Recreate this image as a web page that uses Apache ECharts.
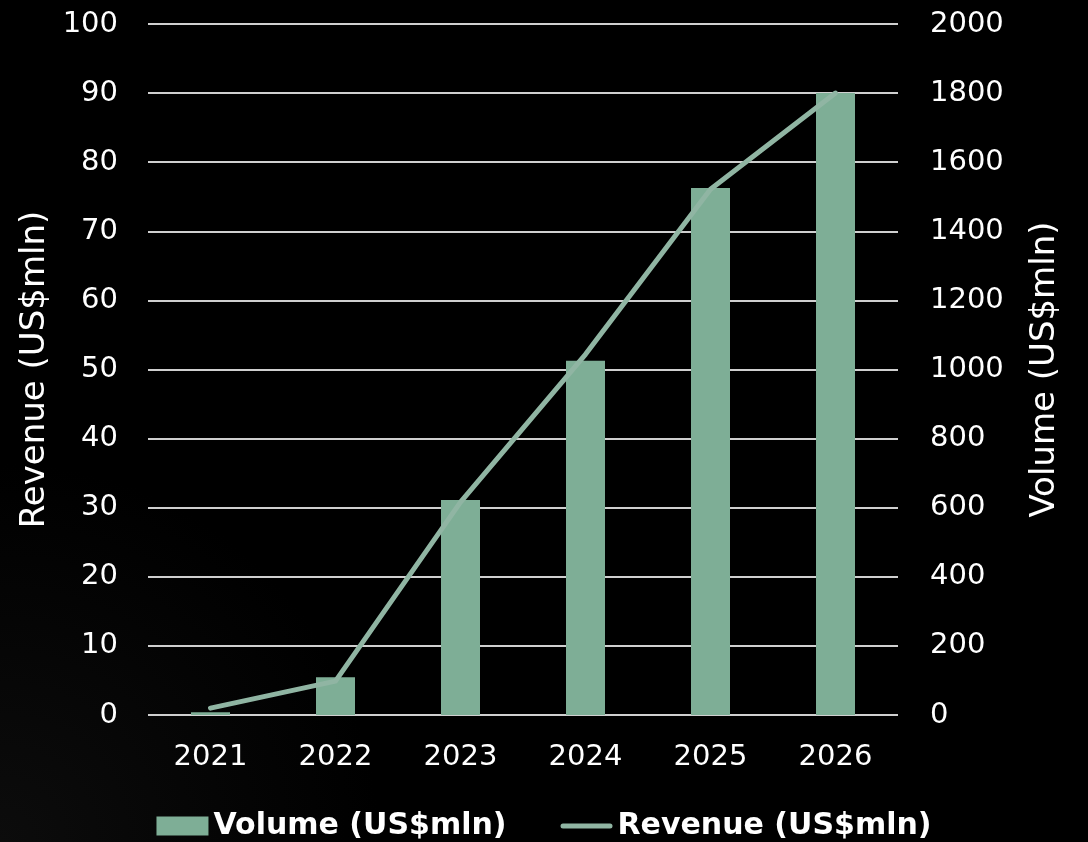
<!DOCTYPE html>
<html>
<head>
<meta charset="utf-8">
<script src="https://cdn.jsdelivr.net/npm/echarts@6/dist/echarts.min.js"></script>
<style>
html,body{margin:0;padding:0;background:#000;}
#c{width:1088px;height:842px;}
</style>
</head>
<body>
<div id="c"></div>
<script>
const categories = ['2021', '2022', '2023', '2024', '2025', '2026'];
const volume = [8, 109, 622, 1025, 1525, 1800];
const revenue = [1.0, 4.9, 30.8, 52.2, 76.1, 90.0];
const revenueTicks = { min: 0, max: 100, interval: 10 };
const volumeTicks = { min: 0, max: 2000, interval: 200 };

const FONT = 'DejaVu Sans';
const LIGHT = 'normal';
const chart = echarts.init(document.getElementById('c'), null, { renderer: 'canvas' });
chart.setOption({
  backgroundColor: {
    type: 'radial', x: 0, y: 1, r: 0.45,
    colorStops: [{ offset: 0, color: '#0c0c0c' }, { offset: 1, color: '#000000' }]
  },
  animation: false,
  grid: { left: 148, right: 190, top: 24, bottom: 127 },
  legend: {
    bottom: -4,
    left: 'center',
    itemWidth: 52,
    itemHeight: 19,
    itemGap: 54,
    textStyle: { color: '#ffffff', fontFamily: FONT, fontWeight: 'bold', fontSize: 30 },
    data: [
      { name: 'Volume (US$mln)', icon: 'rect' },
      { name: 'Revenue (US$mln)',
        icon: 'path://M0,0L0.01,0L0,0.01Z M0,19L0.01,19L0,18.99Z M2.5,7L49.5,7A2.5,2.5 0 0 1 49.5,12L2.5,12A2.5,2.5 0 0 1 2.5,7Z',
        itemStyle: { color: '#90b5a3' } }
    ]
  },
  xAxis: {
    type: 'category',
    data: categories,
    axisLine: { show: false },
    axisTick: { show: false },
    axisLabel: { color: '#ffffff', fontFamily: FONT, fontWeight: LIGHT, fontSize: 29, margin: 28 }
  },
  yAxis: [
    {
      type: 'value',
      position: 'left',
      min: revenueTicks.min, max: revenueTicks.max, interval: revenueTicks.interval,
      name: 'Revenue (US$mln)',
      nameLocation: 'middle',
      nameRotate: 90,
      nameGap: 91,
      nameTextStyle: { color: '#ffffff', fontFamily: FONT, fontWeight: LIGHT, fontSize: 34 },
      axisLine: { show: false },
      axisTick: { show: false },
      axisLabel: { color: '#ffffff', fontFamily: FONT, fontWeight: LIGHT, fontSize: 29, margin: 30 },
      splitLine: { show: true, lineStyle: { color: '#cfcfcf', width: 2 } }
    },
    {
      type: 'value',
      position: 'right',
      min: volumeTicks.min, max: volumeTicks.max, interval: volumeTicks.interval,
      name: 'Volume (US$mln)',
      nameLocation: 'middle',
      nameRotate: 90,
      nameGap: 130,
      nameTextStyle: { color: '#ffffff', fontFamily: FONT, fontWeight: LIGHT, fontSize: 34 },
      axisLine: { show: false },
      axisTick: { show: false },
      axisLabel: { color: '#ffffff', fontFamily: FONT, fontWeight: LIGHT, fontSize: 29, margin: 32,
        formatter: function (v) { return String(v); } },
      splitLine: { show: false }
    }
  ],
  series: [
    {
      name: 'Volume (US$mln)',
      type: 'bar',
      yAxisIndex: 1,
      data: volume,
      barWidth: 39,
      itemStyle: { color: '#7eae96' }
    },
    {
      name: 'Revenue (US$mln)',
      type: 'line',
      yAxisIndex: 0,
      data: revenue,
      symbol: 'none',
      showSymbol: false,
      itemStyle: { color: '#90b5a3' },
      lineStyle: { color: '#90b5a3', width: 5, cap: 'round', join: 'round' }
    }
  ]
});
</script>
</body>
</html>
